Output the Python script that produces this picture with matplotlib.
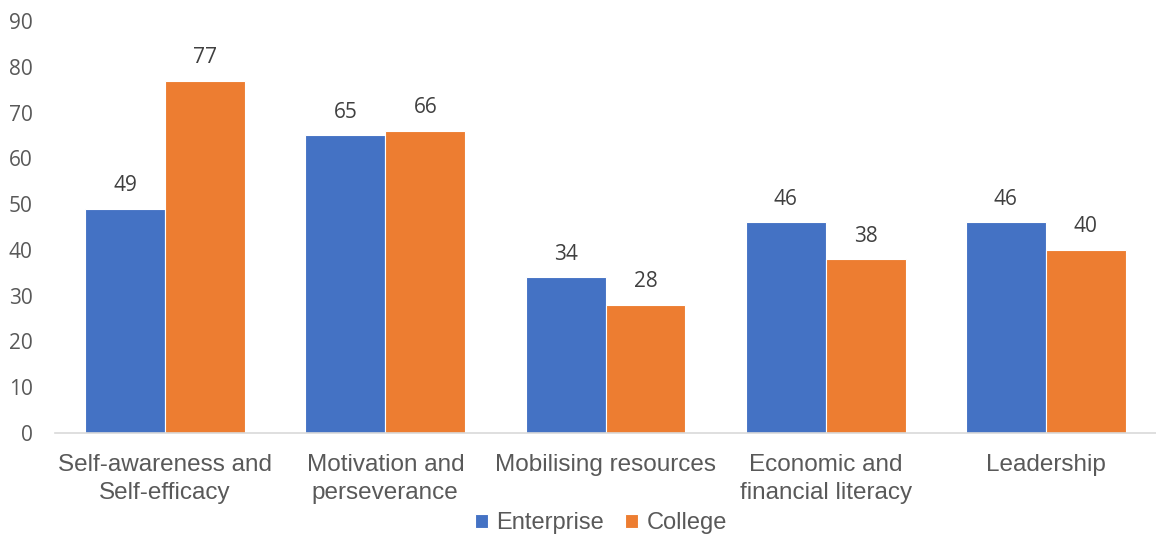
import matplotlib.pyplot as plt
import numpy as np

# Scores per competence area
categories = ['Self-awareness and\nSelf-efficacy', 'Motivation and\nperseverance',
              'Mobilising resources', 'Economic and\nfinancial literacy', 'Leadership']
enterprise = [49, 65, 34, 46, 46]
college = [77, 66, 28, 38, 40]
series_names = ['Enterprise', 'College']

blue = '#4472C4'
orange = '#ED7D31'
grey_text = '#595959'

fig = plt.figure(figsize=(11.56, 5.34), dpi=100)
ax = fig.add_axes([0.0476, 0.1891, 0.9524, 0.7716])

x = np.arange(len(categories))
w = 0.363
b1 = ax.bar(x - w / 2, enterprise, width=w, color=blue, edgecolor='white', linewidth=0.8, label=series_names[0])
b2 = ax.bar(x + w / 2, college, width=w, color=orange, edgecolor='white', linewidth=0.8, label=series_names[1])

for bars in (b1, b2):
    for rect in bars:
        h = rect.get_height()
        ax.annotate(f'{h:.0f}', (rect.get_x() + rect.get_width() / 2, h),
                    xytext=(0, 9), textcoords='offset points', ha='center', va='bottom',
                    fontsize=15, color='#404040', family='Open Sans')

ax.set_xlim(-0.5, len(categories) - 0.5)
ax.set_ylim(0, 90)
ax.set_yticks(range(0, 91, 10))
ax.set_xticks(x)
ax.set_xticklabels(categories, fontsize=17.5, color=grey_text, family='Liberation Sans', linespacing=1.38)
for lab in ax.get_yticklabels():
    lab.set_family('Open Sans')
    lab.set_fontsize(15)
    lab.set_color(grey_text)

for s in ['top', 'right', 'left']:
    ax.spines[s].set_visible(False)
ax.spines['bottom'].set_color('#D9D9D9')
ax.spines['bottom'].set_linewidth(1.2)
ax.tick_params(axis='both', length=0)
ax.tick_params(axis='x', pad=15)
ax.tick_params(axis='y', pad=16)

leg = fig.legend(loc='lower center', bbox_to_anchor=(0.52, -0.04), ncol=2, frameon=False,
                 handlelength=0.55, handleheight=0.55, handletextpad=0.35, columnspacing=0.9,
                 prop={'family': 'Liberation Sans', 'size': 17})
for t in leg.get_texts():
    t.set_color(grey_text)

fig.savefig('out.png', dpi=100)
